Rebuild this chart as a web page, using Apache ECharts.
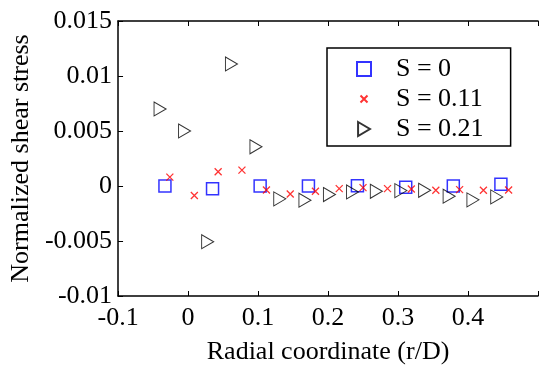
<!DOCTYPE html>
<html>
<head>
<meta charset="utf-8" />
<title>shear stress</title>
<script src="https://cdn.jsdelivr.net/npm/echarts@6/dist/echarts.min.js"></script>
<style>
  html, body { margin: 0; padding: 0; background: #fff; }
  #main { width: 541px; height: 370px; }
</style>
</head>
<body>
<div id="main"></div>
<script type="text/javascript">
// S = 0
var s0X = [-0.033, 0.035, 0.103, 0.172, 0.242, 0.311, 0.379, 0.447];
var s0Y = [0, -0.00024, 0, 0, 0.00003, -0.00012, 0, 0.00015];
// S = 0.11
var s11X = [-0.026, 0.009, 0.043, 0.077, 0.112, 0.146, 0.182, 0.216, 0.250, 0.285, 0.319, 0.354, 0.388, 0.422, 0.458];
var s11Y = [0.00081, -0.00087, 0.00129, 0.00144, -0.00036, -0.00072, -0.00048, -0.00024, -0.00015, -0.00024, -0.00027, -0.00039, -0.00033, -0.00039, -0.00036];
// S = 0.21
var s21X = [-0.040, -0.005, 0.028, 0.062, 0.097, 0.131, 0.167, 0.202, 0.235, 0.269, 0.304, 0.338, 0.373, 0.407, 0.441];
var s21Y = [0.0070, 0.0050, -0.00506, 0.0111, 0.00356, -0.00117, -0.00129, -0.00078, -0.00054, -0.00048, -0.00042, -0.00039, -0.00093, -0.00126, -0.00099];

var seriesNames = ['S = 0', 'S = 0.11', 'S = 0.21'];
var xTicks = ['-0.1', '0', '0.1', '0.2', '0.3', '0.4', ''];
var yTicks = ['-0.01', '-0.005', '0', '0.005', '0.01', '0.015'];

function pairs(xs, ys) {
    var out = [];
    for (var i = 0; i < xs.length; i++) out.push([xs[i], ys[i]]);
    return out;
}

var font = "'Liberation Serif', 'Times New Roman', serif";
// markers: cross padded so it sits small inside its box, triangle pointing right
var crossPath = 'path://M-5,-5M15,15M0,0L10,10M0,10L10,0';
var triPath = 'path://M0,0L11,6.5L0,13Z';

var myChart = echarts.init(document.getElementById('main'));

var option = {
    animation: false,
    textStyle: { fontFamily: font },
    grid: { left: 116, top: 21, width: 434, height: 278 },
    legend: {
        orient: 'vertical',
        left: 327,
        top: 48,
        padding: [8, 27, 4, 29],
        itemWidth: 14,
        itemHeight: 14,
        itemGap: 4,
        borderColor: '#000',
        borderWidth: 1.5,
        borderRadius: 0,
        backgroundColor: '#fff',
        textStyle: { fontFamily: font, fontSize: 26, color: '#000', lineHeight: 24, padding: [0, 0, 0, 20] },
        data: seriesNames
    },
    xAxis: [{
        type: 'value',
        min: -0.1, max: 0.5, interval: 0.1,
        name: 'Radial coordinate (r/D)',
        nameLocation: 'middle',
        nameGap: 43,
        nameTextStyle: { fontFamily: font, fontSize: 26, color: '#000' },
        axisLine: { onZero: false, lineStyle: { color: '#000', width: 1.5 } },
        axisTick: { inside: true, length: 5, lineStyle: { color: '#000' } },
        axisLabel: {
            fontFamily: font, fontSize: 26, color: '#000', margin: 9,
            formatter: function (v) { return xTicks[Math.round((v + 0.1) * 10)]; }
        },
        splitLine: { show: false }
    }, {
        type: 'value',
        position: 'top',
        min: -0.1, max: 0.5, interval: 0.1,
        axisLine: { onZero: false, lineStyle: { color: '#000', width: 1.5 } },
        axisTick: { inside: true, length: 5, lineStyle: { color: '#000' } },
        axisLabel: { show: false },
        splitLine: { show: false }
    }],
    yAxis: [{
        type: 'value',
        min: -0.01, max: 0.015, interval: 0.005,
        name: 'Normalized shear stress',
        nameLocation: 'middle',
        nameGap: 79,
        nameTextStyle: { fontFamily: font, fontSize: 26, color: '#000' },
        axisLine: { show: true, onZero: false, lineStyle: { color: '#000', width: 1.5 } },
        axisTick: { show: true, inside: true, length: 5, lineStyle: { color: '#000' } },
        axisLabel: {
            fontFamily: font, fontSize: 26, color: '#000', margin: 6,
            formatter: function (v) { return yTicks[Math.round((v + 0.01) / 0.005)]; }
        },
        splitLine: { show: false }
    }],
    series: [{
        name: seriesNames[0],
        type: 'scatter',
        symbol: 'rect',
        symbolSize: 12,
        itemStyle: { color: 'rgba(0,0,0,0)', borderColor: '#0000ff', borderWidth: 1.5 },
        data: pairs(s0X, s0Y)
    }, {
        name: seriesNames[1],
        type: 'scatter',
        symbol: crossPath,
        symbolSize: 14,
        itemStyle: { color: 'rgba(0,0,0,0)', borderColor: '#ff0000', borderWidth: 1.3 },
        data: pairs(s11X, s11Y)
    }, {
        name: seriesNames[2],
        type: 'scatter',
        symbol: triPath,
        symbolSize: [12, 14],
        itemStyle: { color: 'rgba(0,0,0,0)', borderColor: '#000', borderWidth: 1 },
        data: pairs(s21X, s21Y)
    }]
};
myChart.setOption(option);
</script>
</body>
</html>
